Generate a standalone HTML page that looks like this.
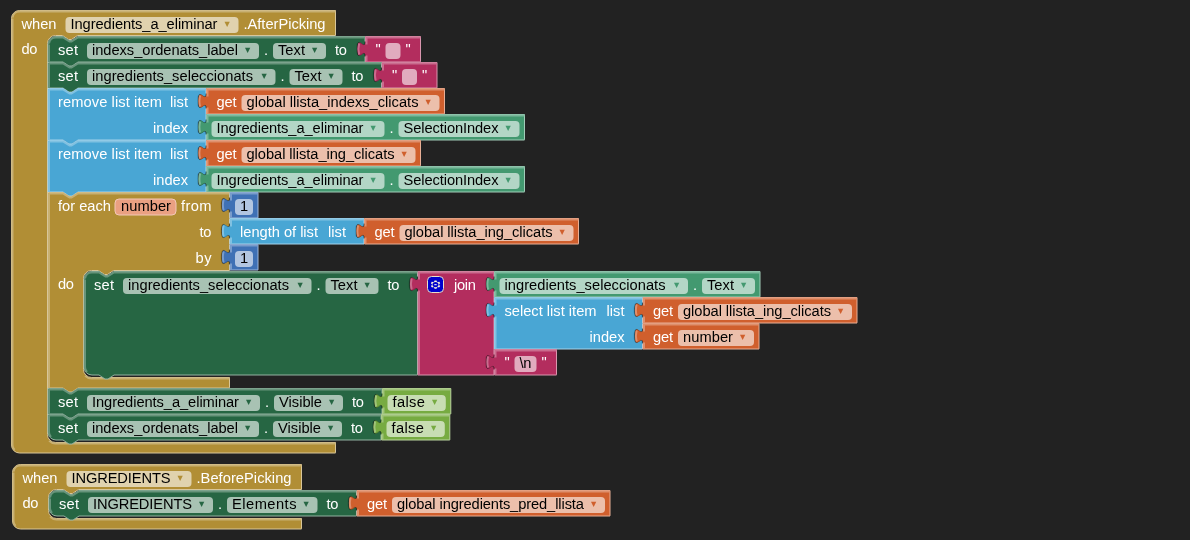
<!DOCTYPE html>
<html><head><meta charset="utf-8"><title>Blocks</title>
<style>
html,body{margin:0;padding:0;background:#222222;}
body{width:1190px;height:540px;overflow:hidden;}
svg{display:block;}
text{font-family:"Liberation Sans",Arial,sans-serif;font-size:14.667px;white-space:pre;}
text.ar{font-family:"DejaVu Sans",sans-serif;font-size:10.5px;}
</style></head><body>
<svg width="1190" height="540" viewBox="0 0 1190 540">
<rect width="1190" height="540" fill="#222222"/>
<g transform="translate(11.5,10.5)"><path d="M 0,8 A 8,8 0 0,1 8,0 H 324 v 25 H 66 l -6,4 -3,0 -6,-4 h -7 a 8,8 0 0,0 -8,8 v 391 a 8,8 0 0,0 8,8 H 324 v 10 v 0.5 H 8 a 8,8 0 0,1 -8,-8 z" fill="#B18E35"/><path d="M 0,8 A 8,8 0 0,1 8,0 H 324 v 25 H 66 l -6,4 -3,0 -6,-4 h -7 a 8,8 0 0,0 -8,8 v 391 a 8,8 0 0,0 8,8 H 324 v 10 v 0.5 H 8 a 8,8 0 0,1 -8,-8 V 8" fill="none" stroke="#d8c69a" stroke-width="1"/><path d="M 1,7 A 7,7 0 0,1 8,1 H 324 M 37.64,430.36 a 9,9 0 0,0 6.36,2.64 H 324 M 3.05,439.45 A 7,7 0 0,1 1,434.5 V 8" fill="none" stroke="#c8b072" stroke-width="2"/></g>
<text x="21.5" y="29" fill="#fff" textLength="35">when</text>
<rect x="65.5" y="17" width="173" height="16" rx="4" ry="4" fill="#fff" fill-opacity="0.6"/>
<text x="70.5" y="29" fill="#000" textLength="147">Ingredients_a_eliminar</text>
<text class="ar" x="224.6" y="26.6" fill="#B18E35">▾</text>
<text x="243.5" y="29" fill="#fff" textLength="82">.AfterPicking</text>
<text x="21.5" y="54" fill="#fff" textLength="16">do</text>
<g transform="translate(48,36.5)"><path d="M 0,8 A 8,8 0 0,1 8,0 H 15 l 6,4 3,0 6,-4 H 317 v 5 c 0,10 -8,-8 -8,7.5 s 8,-2.5 8,7.5 v 5 v 0.5 H 30 l -6,4 -3,0 -6,-4 H 0 z" fill="#266643"/><path d="M 0,8 A 8,8 0 0,1 8,0 H 15 l 6,4 3,0 6,-4 H 317 v 5 m 0,15 v 5 v 0.5 H 30 l -6,4 -3,0 -6,-4 H 0 V 8" fill="none" stroke="#92b2a1" stroke-width="1"/><path d="M 1,7 A 7,7 0 0,1 8,1 H 15 l 6.5,4 2,0 6.5,-4 H 317 M 1,25.5 V 8" fill="none" stroke="#67947b" stroke-width="2"/></g>
<text x="58" y="55" fill="#fff" textLength="20">set</text>
<rect x="87" y="43" width="172" height="16" rx="4" ry="4" fill="#fff" fill-opacity="0.6"/>
<text x="92" y="55" fill="#000" textLength="146">indexs_ordenats_label</text>
<text class="ar" x="245.1" y="52.6" fill="#266643">▾</text>
<text x="264" y="55" fill="#fff" textLength="4">.</text>
<rect x="273" y="43" width="53" height="16" rx="4" ry="4" fill="#fff" fill-opacity="0.6"/>
<text x="278" y="55" fill="#000" textLength="27">Text</text>
<text class="ar" x="312.1" y="52.6" fill="#266643">▾</text>
<text x="335" y="55" fill="#fff" textLength="12">to</text>
<g transform="translate(365.5,36.5)"><path d="M 0,0 H 55 v 25 v 0.5 H 0 V 20 c 0,-10 -8,8 -8,-7.5 s 8,2.5 8,-7.5 z" fill="#B32D5E"/><path d="M 0,0 H 55 v 25 v 0.5 H 0 V 20 M 0,5 V 0" fill="none" stroke="#d996ae" stroke-width="1"/><path d="M 1,1 H 55 M 1,25.5 V 19 m -7.36,-1 q -1.52,-5.5 0,-11 m 7.36,1 V 1 H 2" fill="none" stroke="#ca6c8e" stroke-width="2"/><path d="M -0.2,20 c 0,-10 -8,8 -8,-7.5 s 8,2.5 8,-7.5" transform="translate(-0.6,0)" fill="none" stroke="#000" stroke-opacity="0.18" stroke-width="1"/></g>
<text x="375.5" y="54" fill="#fff" textLength="5">"</text>
<rect x="385.5" y="43" width="15" height="16" rx="4" ry="4" fill="#fff" fill-opacity="0.6"/>
<text x="405.5" y="54" fill="#fff" textLength="5">"</text>
<g transform="translate(48,62.5)"><path d="M 0,0 H 15 l 6,4 3,0 6,-4 H 333.5 v 5 c 0,10 -8,-8 -8,7.5 s 8,-2.5 8,7.5 v 5 v 0.5 H 30 l -6,4 -3,0 -6,-4 H 0 z" fill="#266643"/><path d="M 0,0 H 15 l 6,4 3,0 6,-4 H 333.5 v 5 m 0,15 v 5 v 0.5 H 30 l -6,4 -3,0 -6,-4 H 0 V 0" fill="none" stroke="#92b2a1" stroke-width="1"/><path d="M 1,1 H 15 l 6.5,4 2,0 6.5,-4 H 333.5 M 1,25.5 V 1" fill="none" stroke="#67947b" stroke-width="2"/></g>
<text x="58" y="81" fill="#fff" textLength="20">set</text>
<rect x="87" y="69" width="188.5" height="16" rx="4" ry="4" fill="#fff" fill-opacity="0.6"/>
<text x="92" y="81" fill="#000" textLength="161">ingredients_seleccionats</text>
<text class="ar" x="261.6" y="78.6" fill="#266643">▾</text>
<text x="280.5" y="81" fill="#fff" textLength="4">.</text>
<rect x="289.5" y="69" width="53" height="16" rx="4" ry="4" fill="#fff" fill-opacity="0.6"/>
<text x="294.5" y="81" fill="#000" textLength="27">Text</text>
<text class="ar" x="328.6" y="78.6" fill="#266643">▾</text>
<text x="351.5" y="81" fill="#fff" textLength="12">to</text>
<g transform="translate(382,62.5)"><path d="M 0,0 H 55 v 25 v 0.5 H 0 V 20 c 0,-10 -8,8 -8,-7.5 s 8,2.5 8,-7.5 z" fill="#B32D5E"/><path d="M 0,0 H 55 v 25 v 0.5 H 0 V 20 M 0,5 V 0" fill="none" stroke="#d996ae" stroke-width="1"/><path d="M 1,1 H 55 M 1,25.5 V 19 m -7.36,-1 q -1.52,-5.5 0,-11 m 7.36,1 V 1 H 2" fill="none" stroke="#ca6c8e" stroke-width="2"/><path d="M -0.2,20 c 0,-10 -8,8 -8,-7.5 s 8,2.5 8,-7.5" transform="translate(-0.6,0)" fill="none" stroke="#000" stroke-opacity="0.18" stroke-width="1"/></g>
<text x="392" y="80" fill="#fff" textLength="5">"</text>
<rect x="402" y="69" width="15" height="16" rx="4" ry="4" fill="#fff" fill-opacity="0.6"/>
<text x="422" y="80" fill="#fff" textLength="5">"</text>
<g transform="translate(48,88.5)"><path d="M 0,0 H 15 l 6,4 3,0 6,-4 H 158 v 5 c 0,10 -8,-8 -8,7.5 s 8,-2.5 8,7.5 v 6 v 5 c 0,10 -8,-8 -8,7.5 s 8,-2.5 8,7.5 v 5 v 0.5 H 30 l -6,4 -3,0 -6,-4 H 0 z" fill="#49A6D4"/><path d="M 0,0 H 15 l 6,4 3,0 6,-4 H 158 v 5 m 0,15 v 6 v 5 m 0,15 v 5 v 0.5 H 30 l -6,4 -3,0 -6,-4 H 0 V 0" fill="none" stroke="#a4d2ea" stroke-width="1"/><path d="M 1,1 H 15 l 6.5,4 2,0 6.5,-4 H 158 M 1,51.5 V 1" fill="none" stroke="#80c1e1" stroke-width="2"/></g>
<text x="58" y="107" fill="#fff" textLength="104">remove list item</text>
<text x="170" y="107" fill="#fff" textLength="18">list</text>
<text x="153" y="133" fill="#fff" textLength="35">index</text>
<g transform="translate(206.5,88.5)"><path d="M 0,0 H 238 v 25 v 0.5 H 0 V 20 c 0,-10 -8,8 -8,-7.5 s 8,2.5 8,-7.5 z" fill="#D05F2D"/><path d="M 0,0 H 238 v 25 v 0.5 H 0 V 20 M 0,5 V 0" fill="none" stroke="#e8af96" stroke-width="1"/><path d="M 1,1 H 238 M 1,25.5 V 19 m -7.36,-1 q -1.52,-5.5 0,-11 m 7.36,1 V 1 H 2" fill="none" stroke="#de8f6c" stroke-width="2"/><path d="M -0.2,20 c 0,-10 -8,8 -8,-7.5 s 8,2.5 8,-7.5" transform="translate(-0.6,0)" fill="none" stroke="#000" stroke-opacity="0.18" stroke-width="1"/></g>
<text x="216.5" y="107" fill="#fff" textLength="20">get</text>
<rect x="241.5" y="95" width="198" height="16" rx="4" ry="4" fill="#fff" fill-opacity="0.6"/>
<text x="246.5" y="107" fill="#000" textLength="172">global llista_indexs_clicats</text>
<text class="ar" x="425.6" y="104.6" fill="#D05F2D">▾</text>
<g transform="translate(206.5,114.5)"><path d="M 0,0 H 318 v 25 v 0.5 H 0 V 20 c 0,-10 -8,8 -8,-7.5 s 8,2.5 8,-7.5 z" fill="#439970"/><path d="M 0,0 H 318 v 25 v 0.5 H 0 V 20 M 0,5 V 0" fill="none" stroke="#a1ccb8" stroke-width="1"/><path d="M 1,1 H 318 M 1,25.5 V 19 m -7.36,-1 q -1.52,-5.5 0,-11 m 7.36,1 V 1 H 2" fill="none" stroke="#7bb89b" stroke-width="2"/><path d="M -0.2,20 c 0,-10 -8,8 -8,-7.5 s 8,2.5 8,-7.5" transform="translate(-0.6,0)" fill="none" stroke="#000" stroke-opacity="0.18" stroke-width="1"/></g>
<rect x="211.5" y="121" width="173" height="16" rx="4" ry="4" fill="#fff" fill-opacity="0.6"/>
<text x="216.5" y="133" fill="#000" textLength="147">Ingredients_a_eliminar</text>
<text class="ar" x="370.6" y="130.6" fill="#439970">▾</text>
<text x="389.5" y="133" fill="#fff" textLength="4">.</text>
<rect x="398.5" y="121" width="121" height="16" rx="4" ry="4" fill="#fff" fill-opacity="0.6"/>
<text x="403.5" y="133" fill="#000" textLength="95">SelectionIndex</text>
<text class="ar" x="505.6" y="130.6" fill="#439970">▾</text>
<g transform="translate(48,140.5)"><path d="M 0,0 H 15 l 6,4 3,0 6,-4 H 158 v 5 c 0,10 -8,-8 -8,7.5 s 8,-2.5 8,7.5 v 6 v 5 c 0,10 -8,-8 -8,7.5 s 8,-2.5 8,7.5 v 5 v 0.5 H 30 l -6,4 -3,0 -6,-4 H 0 z" fill="#49A6D4"/><path d="M 0,0 H 15 l 6,4 3,0 6,-4 H 158 v 5 m 0,15 v 6 v 5 m 0,15 v 5 v 0.5 H 30 l -6,4 -3,0 -6,-4 H 0 V 0" fill="none" stroke="#a4d2ea" stroke-width="1"/><path d="M 1,1 H 15 l 6.5,4 2,0 6.5,-4 H 158 M 1,51.5 V 1" fill="none" stroke="#80c1e1" stroke-width="2"/></g>
<text x="58" y="159" fill="#fff" textLength="104">remove list item</text>
<text x="170" y="159" fill="#fff" textLength="18">list</text>
<text x="153" y="185" fill="#fff" textLength="35">index</text>
<g transform="translate(206.5,140.5)"><path d="M 0,0 H 214 v 25 v 0.5 H 0 V 20 c 0,-10 -8,8 -8,-7.5 s 8,2.5 8,-7.5 z" fill="#D05F2D"/><path d="M 0,0 H 214 v 25 v 0.5 H 0 V 20 M 0,5 V 0" fill="none" stroke="#e8af96" stroke-width="1"/><path d="M 1,1 H 214 M 1,25.5 V 19 m -7.36,-1 q -1.52,-5.5 0,-11 m 7.36,1 V 1 H 2" fill="none" stroke="#de8f6c" stroke-width="2"/><path d="M -0.2,20 c 0,-10 -8,8 -8,-7.5 s 8,2.5 8,-7.5" transform="translate(-0.6,0)" fill="none" stroke="#000" stroke-opacity="0.18" stroke-width="1"/></g>
<text x="216.5" y="159" fill="#fff" textLength="20">get</text>
<rect x="241.5" y="147" width="174" height="16" rx="4" ry="4" fill="#fff" fill-opacity="0.6"/>
<text x="246.5" y="159" fill="#000" textLength="148">global llista_ing_clicats</text>
<text class="ar" x="401.6" y="156.6" fill="#D05F2D">▾</text>
<g transform="translate(206.5,166.5)"><path d="M 0,0 H 318 v 25 v 0.5 H 0 V 20 c 0,-10 -8,8 -8,-7.5 s 8,2.5 8,-7.5 z" fill="#439970"/><path d="M 0,0 H 318 v 25 v 0.5 H 0 V 20 M 0,5 V 0" fill="none" stroke="#a1ccb8" stroke-width="1"/><path d="M 1,1 H 318 M 1,25.5 V 19 m -7.36,-1 q -1.52,-5.5 0,-11 m 7.36,1 V 1 H 2" fill="none" stroke="#7bb89b" stroke-width="2"/><path d="M -0.2,20 c 0,-10 -8,8 -8,-7.5 s 8,2.5 8,-7.5" transform="translate(-0.6,0)" fill="none" stroke="#000" stroke-opacity="0.18" stroke-width="1"/></g>
<rect x="211.5" y="173" width="173" height="16" rx="4" ry="4" fill="#fff" fill-opacity="0.6"/>
<text x="216.5" y="185" fill="#000" textLength="147">Ingredients_a_eliminar</text>
<text class="ar" x="370.6" y="182.6" fill="#439970">▾</text>
<text x="389.5" y="185" fill="#fff" textLength="4">.</text>
<rect x="398.5" y="173" width="121" height="16" rx="4" ry="4" fill="#fff" fill-opacity="0.6"/>
<text x="403.5" y="185" fill="#000" textLength="95">SelectionIndex</text>
<text class="ar" x="505.6" y="182.6" fill="#439970">▾</text>
<g transform="translate(48,192.5)"><path d="M 0,0 H 15 l 6,4 3,0 6,-4 H 181.5 v 5 c 0,10 -8,-8 -8,7.5 s 8,-2.5 8,7.5 v 6 v 5 c 0,10 -8,-8 -8,7.5 s 8,-2.5 8,7.5 v 6 v 5 c 0,10 -8,-8 -8,7.5 s 8,-2.5 8,7.5 v 6 H 65.5 l -6,4 -3,0 -6,-4 h -7 a 8,8 0 0,0 -8,8 v 91 a 8,8 0 0,0 8,8 H 181.5 v 10 v 0.5 H 30 l -6,4 -3,0 -6,-4 H 0 z" fill="#B18E35"/><path d="M 0,0 H 15 l 6,4 3,0 6,-4 H 181.5 v 5 m 0,15 v 6 v 5 m 0,15 v 6 v 5 m 0,15 v 6 H 65.5 l -6,4 -3,0 -6,-4 h -7 a 8,8 0 0,0 -8,8 v 91 a 8,8 0 0,0 8,8 H 181.5 v 10 v 0.5 H 30 l -6,4 -3,0 -6,-4 H 0 V 0" fill="none" stroke="#d8c69a" stroke-width="1"/><path d="M 1,1 H 15 l 6.5,4 2,0 6.5,-4 H 181.5 M 37.14,183.36 a 9,9 0 0,0 6.36,2.64 H 181.5 M 1,195.5 V 1" fill="none" stroke="#c8b072" stroke-width="2"/></g>
<text x="58" y="211" fill="#fff" textLength="53">for each</text>
<rect x="115" y="199" width="61" height="16" rx="4" ry="4" fill="#eaa082" fill-opacity="1" stroke="#f3c8b8" stroke-width="1"/>
<text x="121" y="211" fill="#000" textLength="50">number</text>
<text x="181" y="211" fill="#fff" textLength="30.5">from</text>
<text x="199.5" y="237" fill="#fff" textLength="12">to</text>
<text x="195.5" y="263" fill="#fff" textLength="16">by</text>
<text x="58" y="289" fill="#fff" textLength="16">do</text>
<g transform="translate(230,192.5)"><path d="M 0,0 H 28 v 25 v 0.5 H 0 V 20 c 0,-10 -8,8 -8,-7.5 s 8,2.5 8,-7.5 z" fill="#3F71B5"/><path d="M 0,0 H 28 v 25 v 0.5 H 0 V 20 M 0,5 V 0" fill="none" stroke="#9fb8da" stroke-width="1"/><path d="M 1,1 H 28 M 1,25.5 V 19 m -7.36,-1 q -1.52,-5.5 0,-11 m 7.36,1 V 1 H 2" fill="none" stroke="#799ccb" stroke-width="2"/><path d="M -0.2,20 c 0,-10 -8,8 -8,-7.5 s 8,2.5 8,-7.5" transform="translate(-0.6,0)" fill="none" stroke="#000" stroke-opacity="0.18" stroke-width="1"/></g>
<rect x="235" y="199" width="18" height="16" rx="4" ry="4" fill="#fff" fill-opacity="0.6"/>
<text x="240" y="211" fill="#000" textLength="8">1</text>
<g transform="translate(230,218.5)"><path d="M 0,0 H 134 v 5 c 0,10 -8,-8 -8,7.5 s 8,-2.5 8,7.5 v 5 v 0.5 H 0 V 20 c 0,-10 -8,8 -8,-7.5 s 8,2.5 8,-7.5 z" fill="#49A6D4"/><path d="M 0,0 H 134 v 5 m 0,15 v 5 v 0.5 H 0 V 20 M 0,5 V 0" fill="none" stroke="#a4d2ea" stroke-width="1"/><path d="M 1,1 H 134 M 1,25.5 V 19 m -7.36,-1 q -1.52,-5.5 0,-11 m 7.36,1 V 1 H 2" fill="none" stroke="#80c1e1" stroke-width="2"/><path d="M -0.2,20 c 0,-10 -8,8 -8,-7.5 s 8,2.5 8,-7.5" transform="translate(-0.6,0)" fill="none" stroke="#000" stroke-opacity="0.18" stroke-width="1"/></g>
<text x="240" y="237" fill="#fff" textLength="78">length of list</text>
<text x="328" y="237" fill="#fff" textLength="18">list</text>
<g transform="translate(364.5,218.5)"><path d="M 0,0 H 214 v 25 v 0.5 H 0 V 20 c 0,-10 -8,8 -8,-7.5 s 8,2.5 8,-7.5 z" fill="#D05F2D"/><path d="M 0,0 H 214 v 25 v 0.5 H 0 V 20 M 0,5 V 0" fill="none" stroke="#e8af96" stroke-width="1"/><path d="M 1,1 H 214 M 1,25.5 V 19 m -7.36,-1 q -1.52,-5.5 0,-11 m 7.36,1 V 1 H 2" fill="none" stroke="#de8f6c" stroke-width="2"/><path d="M -0.2,20 c 0,-10 -8,8 -8,-7.5 s 8,2.5 8,-7.5" transform="translate(-0.6,0)" fill="none" stroke="#000" stroke-opacity="0.18" stroke-width="1"/></g>
<text x="374.5" y="237" fill="#fff" textLength="20">get</text>
<rect x="399.5" y="225" width="174" height="16" rx="4" ry="4" fill="#fff" fill-opacity="0.6"/>
<text x="404.5" y="237" fill="#000" textLength="148">global llista_ing_clicats</text>
<text class="ar" x="559.6" y="234.6" fill="#D05F2D">▾</text>
<g transform="translate(230,244.5)"><path d="M 0,0 H 28 v 25 v 0.5 H 0 V 20 c 0,-10 -8,8 -8,-7.5 s 8,2.5 8,-7.5 z" fill="#3F71B5"/><path d="M 0,0 H 28 v 25 v 0.5 H 0 V 20 M 0,5 V 0" fill="none" stroke="#9fb8da" stroke-width="1"/><path d="M 1,1 H 28 M 1,25.5 V 19 m -7.36,-1 q -1.52,-5.5 0,-11 m 7.36,1 V 1 H 2" fill="none" stroke="#799ccb" stroke-width="2"/><path d="M -0.2,20 c 0,-10 -8,8 -8,-7.5 s 8,2.5 8,-7.5" transform="translate(-0.6,0)" fill="none" stroke="#000" stroke-opacity="0.18" stroke-width="1"/></g>
<rect x="235" y="251" width="18" height="16" rx="4" ry="4" fill="#fff" fill-opacity="0.6"/>
<text x="240" y="263" fill="#000" textLength="8">1</text>
<g transform="translate(84,271.5)"><path d="M 0,8 A 8,8 0 0,1 8,0 H 15 l 6,4 3,0 6,-4 H 333.5 v 5 c 0,10 -8,-8 -8,7.5 s 8,-2.5 8,7.5 v 83 v 0.5 H 30 l -6,4 -3,0 -6,-4 H 8 a 8,8 0 0,1 -8,-8 z" fill="#266643"/><path d="M 0,8 A 8,8 0 0,1 8,0 H 15 l 6,4 3,0 6,-4 H 333.5 v 5 m 0,15 v 83 v 0.5 H 30 l -6,4 -3,0 -6,-4 H 8 a 8,8 0 0,1 -8,-8 V 8" fill="none" stroke="#92b2a1" stroke-width="1"/><path d="M 1,7 A 7,7 0 0,1 8,1 H 15 l 6.5,4 2,0 6.5,-4 H 333.5 M 3.05,100.45 A 7,7 0 0,1 1,95.5 V 8" fill="none" stroke="#67947b" stroke-width="2"/></g>
<text x="94" y="290" fill="#fff" textLength="20">set</text>
<rect x="123" y="278" width="188.5" height="16" rx="4" ry="4" fill="#fff" fill-opacity="0.6"/>
<text x="128" y="290" fill="#000" textLength="161">ingredients_seleccionats</text>
<text class="ar" x="297.6" y="287.6" fill="#266643">▾</text>
<text x="316.5" y="290" fill="#fff" textLength="4">.</text>
<rect x="325.5" y="278" width="53" height="16" rx="4" ry="4" fill="#fff" fill-opacity="0.6"/>
<text x="330.5" y="290" fill="#000" textLength="27">Text</text>
<text class="ar" x="364.6" y="287.6" fill="#266643">▾</text>
<text x="387.5" y="290" fill="#fff" textLength="12">to</text>
<g transform="translate(418,271.5)"><path d="M 0,0 H 76 v 5 c 0,10 -8,-8 -8,7.5 s 8,-2.5 8,7.5 v 6 v 5 c 0,10 -8,-8 -8,7.5 s 8,-2.5 8,7.5 v 32 v 5 c 0,10 -8,-8 -8,7.5 s 8,-2.5 8,7.5 v 5 v 0.5 H 0 V 20 c 0,-10 -8,8 -8,-7.5 s 8,2.5 8,-7.5 z" fill="#B32D5E"/><path d="M 0,0 H 76 v 5 m 0,15 v 6 v 5 m 0,15 v 32 v 5 m 0,15 v 5 v 0.5 H 0 V 20 M 0,5 V 0" fill="none" stroke="#d996ae" stroke-width="1"/><path d="M 1,1 H 76 M 1,103.5 V 19 m -7.36,-1 q -1.52,-5.5 0,-11 m 7.36,1 V 1 H 2" fill="none" stroke="#ca6c8e" stroke-width="2"/><path d="M -0.2,20 c 0,-10 -8,8 -8,-7.5 s 8,2.5 8,-7.5" transform="translate(-0.6,0)" fill="none" stroke="#000" stroke-opacity="0.18" stroke-width="1"/><g transform="translate(9.5,5)"><rect width="16" height="16" rx="4" ry="4" fill="#0000cc" stroke="#e8e0c8" stroke-width="1"/><g transform="translate(8,8.1) scale(0.95,0.82) translate(-8,-8)"><path fill="#fff6d8" d="m4.203,7.296 0,1.368 -0.92,0.677 -0.11,0.41 0.9,1.559 0.41,0.11 1.043,-0.457 1.187,0.683 0.127,1.134 0.3,0.3 1.8,0 0.3,-0.299 0.127,-1.138 1.185,-0.682 1.046,0.458 0.409,-0.11 0.9,-1.559 -0.11,-0.41 -0.92,-0.677 0,-1.366 0.92,-0.677 0.11,-0.41 -0.9,-1.559 -0.409,-0.109 -1.046,0.458 -1.185,-0.682 -0.127,-1.138 -0.3,-0.299 -1.8,0 -0.3,0.3 -0.126,1.135 -1.187,0.682 -1.043,-0.457 -0.41,0.11 -0.899,1.559 0.108,0.409z"/><circle cx="8" cy="8" r="3.2" fill="#0000cc"/></g><rect x="6.8" y="7.7" width="2.4" height="1" fill="#fff"/></g></g>
<text x="454" y="290" fill="#fff" textLength="22">join</text>
<g transform="translate(494.5,271.5)"><path d="M 0,0 H 265.5 v 25 v 0.5 H 0 V 20 c 0,-10 -8,8 -8,-7.5 s 8,2.5 8,-7.5 z" fill="#439970"/><path d="M 0,0 H 265.5 v 25 v 0.5 H 0 V 20 M 0,5 V 0" fill="none" stroke="#a1ccb8" stroke-width="1"/><path d="M 1,1 H 265.5 M 1,25.5 V 19 m -7.36,-1 q -1.52,-5.5 0,-11 m 7.36,1 V 1 H 2" fill="none" stroke="#7bb89b" stroke-width="2"/><path d="M -0.2,20 c 0,-10 -8,8 -8,-7.5 s 8,2.5 8,-7.5" transform="translate(-0.6,0)" fill="none" stroke="#000" stroke-opacity="0.18" stroke-width="1"/></g>
<rect x="499.5" y="278" width="188.5" height="16" rx="4" ry="4" fill="#fff" fill-opacity="0.6"/>
<text x="504.5" y="290" fill="#000" textLength="161">ingredients_seleccionats</text>
<text class="ar" x="674.1" y="287.6" fill="#439970">▾</text>
<text x="693" y="290" fill="#fff" textLength="4">.</text>
<rect x="702" y="278" width="53" height="16" rx="4" ry="4" fill="#fff" fill-opacity="0.6"/>
<text x="707" y="290" fill="#000" textLength="27">Text</text>
<text class="ar" x="741.1" y="287.6" fill="#439970">▾</text>
<g transform="translate(494.5,297.5)"><path d="M 0,0 H 148 v 5 c 0,10 -8,-8 -8,7.5 s 8,-2.5 8,7.5 v 6 v 5 c 0,10 -8,-8 -8,7.5 s 8,-2.5 8,7.5 v 5 v 0.5 H 0 V 20 c 0,-10 -8,8 -8,-7.5 s 8,2.5 8,-7.5 z" fill="#49A6D4"/><path d="M 0,0 H 148 v 5 m 0,15 v 6 v 5 m 0,15 v 5 v 0.5 H 0 V 20 M 0,5 V 0" fill="none" stroke="#a4d2ea" stroke-width="1"/><path d="M 1,1 H 148 M 1,51.5 V 19 m -7.36,-1 q -1.52,-5.5 0,-11 m 7.36,1 V 1 H 2" fill="none" stroke="#80c1e1" stroke-width="2"/><path d="M -0.2,20 c 0,-10 -8,8 -8,-7.5 s 8,2.5 8,-7.5" transform="translate(-0.6,0)" fill="none" stroke="#000" stroke-opacity="0.18" stroke-width="1"/></g>
<text x="504.5" y="316" fill="#fff" textLength="92">select list item</text>
<text x="606.5" y="316" fill="#fff" textLength="18">list</text>
<text x="589.5" y="342" fill="#fff" textLength="35">index</text>
<g transform="translate(643,297.5)"><path d="M 0,0 H 214 v 25 v 0.5 H 0 V 20 c 0,-10 -8,8 -8,-7.5 s 8,2.5 8,-7.5 z" fill="#D05F2D"/><path d="M 0,0 H 214 v 25 v 0.5 H 0 V 20 M 0,5 V 0" fill="none" stroke="#e8af96" stroke-width="1"/><path d="M 1,1 H 214 M 1,25.5 V 19 m -7.36,-1 q -1.52,-5.5 0,-11 m 7.36,1 V 1 H 2" fill="none" stroke="#de8f6c" stroke-width="2"/><path d="M -0.2,20 c 0,-10 -8,8 -8,-7.5 s 8,2.5 8,-7.5" transform="translate(-0.6,0)" fill="none" stroke="#000" stroke-opacity="0.18" stroke-width="1"/></g>
<text x="653" y="316" fill="#fff" textLength="20">get</text>
<rect x="678" y="304" width="174" height="16" rx="4" ry="4" fill="#fff" fill-opacity="0.6"/>
<text x="683" y="316" fill="#000" textLength="148">global llista_ing_clicats</text>
<text class="ar" x="838.1" y="313.6" fill="#D05F2D">▾</text>
<g transform="translate(643,323.5)"><path d="M 0,0 H 116 v 25 v 0.5 H 0 V 20 c 0,-10 -8,8 -8,-7.5 s 8,2.5 8,-7.5 z" fill="#D05F2D"/><path d="M 0,0 H 116 v 25 v 0.5 H 0 V 20 M 0,5 V 0" fill="none" stroke="#e8af96" stroke-width="1"/><path d="M 1,1 H 116 M 1,25.5 V 19 m -7.36,-1 q -1.52,-5.5 0,-11 m 7.36,1 V 1 H 2" fill="none" stroke="#de8f6c" stroke-width="2"/><path d="M -0.2,20 c 0,-10 -8,8 -8,-7.5 s 8,2.5 8,-7.5" transform="translate(-0.6,0)" fill="none" stroke="#000" stroke-opacity="0.18" stroke-width="1"/></g>
<text x="653" y="342" fill="#fff" textLength="20">get</text>
<rect x="678" y="330" width="76" height="16" rx="4" ry="4" fill="#fff" fill-opacity="0.6"/>
<text x="683" y="342" fill="#000" textLength="50">number</text>
<text class="ar" x="740.1" y="339.6" fill="#D05F2D">▾</text>
<g transform="translate(494.5,349.5)"><path d="M 0,0 H 62 v 25 v 0.5 H 0 V 20 c 0,-10 -8,8 -8,-7.5 s 8,2.5 8,-7.5 z" fill="#B32D5E"/><path d="M 0,0 H 62 v 25 v 0.5 H 0 V 20 M 0,5 V 0" fill="none" stroke="#d996ae" stroke-width="1"/><path d="M 1,1 H 62 M 1,25.5 V 19 m -7.36,-1 q -1.52,-5.5 0,-11 m 7.36,1 V 1 H 2" fill="none" stroke="#ca6c8e" stroke-width="2"/><path d="M -0.2,20 c 0,-10 -8,8 -8,-7.5 s 8,2.5 8,-7.5" transform="translate(-0.6,0)" fill="none" stroke="#000" stroke-opacity="0.18" stroke-width="1"/></g>
<text x="504.5" y="367" fill="#fff" textLength="5">"</text>
<rect x="514.5" y="356" width="22" height="16" rx="4" ry="4" fill="#fff" fill-opacity="0.6"/>
<text x="519.5" y="368" fill="#000" textLength="12">\n</text>
<text x="541.5" y="367" fill="#fff" textLength="5">"</text>
<g transform="translate(48,388.5)"><path d="M 0,0 H 15 l 6,4 3,0 6,-4 H 334 v 5 c 0,10 -8,-8 -8,7.5 s 8,-2.5 8,7.5 v 5 v 0.5 H 30 l -6,4 -3,0 -6,-4 H 0 z" fill="#266643"/><path d="M 0,0 H 15 l 6,4 3,0 6,-4 H 334 v 5 m 0,15 v 5 v 0.5 H 30 l -6,4 -3,0 -6,-4 H 0 V 0" fill="none" stroke="#92b2a1" stroke-width="1"/><path d="M 1,1 H 15 l 6.5,4 2,0 6.5,-4 H 334 M 1,25.5 V 1" fill="none" stroke="#67947b" stroke-width="2"/></g>
<text x="58" y="407" fill="#fff" textLength="20">set</text>
<rect x="87" y="395" width="173" height="16" rx="4" ry="4" fill="#fff" fill-opacity="0.6"/>
<text x="92" y="407" fill="#000" textLength="147">Ingredients_a_eliminar</text>
<text class="ar" x="246.1" y="404.6" fill="#266643">▾</text>
<text x="265" y="407" fill="#fff" textLength="4">.</text>
<rect x="274" y="395" width="69" height="16" rx="4" ry="4" fill="#fff" fill-opacity="0.6"/>
<text x="279" y="407" fill="#000" textLength="43">Visible</text>
<text class="ar" x="329.1" y="404.6" fill="#266643">▾</text>
<text x="352" y="407" fill="#fff" textLength="12">to</text>
<g transform="translate(382.5,388.5)"><path d="M 0,0 H 68.3 v 25 v 0.5 H 0 V 20 c 0,-10 -8,8 -8,-7.5 s 8,2.5 8,-7.5 z" fill="#77AB41"/><path d="M 0,0 H 68.3 v 25 v 0.5 H 0 V 20 M 0,5 V 0" fill="none" stroke="#bbd5a0" stroke-width="1"/><path d="M 1,1 H 68.3 M 1,25.5 V 19 m -7.36,-1 q -1.52,-5.5 0,-11 m 7.36,1 V 1 H 2" fill="none" stroke="#a0c47a" stroke-width="2"/><path d="M -0.2,20 c 0,-10 -8,8 -8,-7.5 s 8,2.5 8,-7.5" transform="translate(-0.6,0)" fill="none" stroke="#000" stroke-opacity="0.18" stroke-width="1"/></g>
<rect x="387.5" y="395" width="58.3" height="16" rx="4" ry="4" fill="#fff" fill-opacity="0.6"/>
<text x="392.5" y="407" fill="#000" textLength="32.3">false</text>
<text class="ar" x="431.9" y="404.6" fill="#77AB41">▾</text>
<g transform="translate(48,414.5)"><path d="M 0,0 H 15 l 6,4 3,0 6,-4 H 333 v 5 c 0,10 -8,-8 -8,7.5 s 8,-2.5 8,7.5 v 5 v 0.5 H 30 l -6,4 -3,0 -6,-4 H 8 a 8,8 0 0,1 -8,-8 z" fill="#266643"/><path d="M 0,0 H 15 l 6,4 3,0 6,-4 H 333 v 5 m 0,15 v 5 v 0.5 H 30 l -6,4 -3,0 -6,-4 H 8 a 8,8 0 0,1 -8,-8 V 0" fill="none" stroke="#92b2a1" stroke-width="1"/><path d="M 1,1 H 15 l 6.5,4 2,0 6.5,-4 H 333 M 3.05,22.45 A 7,7 0 0,1 1,17.5 V 1" fill="none" stroke="#67947b" stroke-width="2"/></g>
<text x="58" y="433" fill="#fff" textLength="20">set</text>
<rect x="87" y="421" width="172" height="16" rx="4" ry="4" fill="#fff" fill-opacity="0.6"/>
<text x="92" y="433" fill="#000" textLength="146">indexs_ordenats_label</text>
<text class="ar" x="245.1" y="430.6" fill="#266643">▾</text>
<text x="264" y="433" fill="#fff" textLength="4">.</text>
<rect x="273" y="421" width="69" height="16" rx="4" ry="4" fill="#fff" fill-opacity="0.6"/>
<text x="278" y="433" fill="#000" textLength="43">Visible</text>
<text class="ar" x="328.1" y="430.6" fill="#266643">▾</text>
<text x="351" y="433" fill="#fff" textLength="12">to</text>
<g transform="translate(381.5,414.5)"><path d="M 0,0 H 68.3 v 25 v 0.5 H 0 V 20 c 0,-10 -8,8 -8,-7.5 s 8,2.5 8,-7.5 z" fill="#77AB41"/><path d="M 0,0 H 68.3 v 25 v 0.5 H 0 V 20 M 0,5 V 0" fill="none" stroke="#bbd5a0" stroke-width="1"/><path d="M 1,1 H 68.3 M 1,25.5 V 19 m -7.36,-1 q -1.52,-5.5 0,-11 m 7.36,1 V 1 H 2" fill="none" stroke="#a0c47a" stroke-width="2"/><path d="M -0.2,20 c 0,-10 -8,8 -8,-7.5 s 8,2.5 8,-7.5" transform="translate(-0.6,0)" fill="none" stroke="#000" stroke-opacity="0.18" stroke-width="1"/></g>
<rect x="386.5" y="421" width="58.3" height="16" rx="4" ry="4" fill="#fff" fill-opacity="0.6"/>
<text x="391.5" y="433" fill="#000" textLength="32.3">false</text>
<text class="ar" x="430.9" y="430.6" fill="#77AB41">▾</text>
<g transform="translate(12.5,464.5)"><path d="M 0,8 A 8,8 0 0,1 8,0 H 289 v 25 H 66 l -6,4 -3,0 -6,-4 h -7 a 8,8 0 0,0 -8,8 v 13 a 8,8 0 0,0 8,8 H 289 v 10 v 0.5 H 8 a 8,8 0 0,1 -8,-8 z" fill="#B18E35"/><path d="M 0,8 A 8,8 0 0,1 8,0 H 289 v 25 H 66 l -6,4 -3,0 -6,-4 h -7 a 8,8 0 0,0 -8,8 v 13 a 8,8 0 0,0 8,8 H 289 v 10 v 0.5 H 8 a 8,8 0 0,1 -8,-8 V 8" fill="none" stroke="#d8c69a" stroke-width="1"/><path d="M 1,7 A 7,7 0 0,1 8,1 H 289 M 37.64,52.36 a 9,9 0 0,0 6.36,2.64 H 289 M 3.05,61.45 A 7,7 0 0,1 1,56.5 V 8" fill="none" stroke="#c8b072" stroke-width="2"/></g>
<text x="22.5" y="483" fill="#fff" textLength="35">when</text>
<rect x="66.5" y="471" width="125" height="16" rx="4" ry="4" fill="#fff" fill-opacity="0.6"/>
<text x="71.5" y="483" fill="#000" textLength="99">INGREDIENTS</text>
<text class="ar" x="177.6" y="480.6" fill="#B18E35">▾</text>
<text x="196.5" y="483" fill="#fff" textLength="95">.BeforePicking</text>
<text x="22.5" y="508" fill="#fff" textLength="16">do</text>
<g transform="translate(49,490.5)"><path d="M 0,8 A 8,8 0 0,1 8,0 H 15 l 6,4 3,0 6,-4 H 307.5 v 5 c 0,10 -8,-8 -8,7.5 s 8,-2.5 8,7.5 v 5 v 0.5 H 30 l -6,4 -3,0 -6,-4 H 8 a 8,8 0 0,1 -8,-8 z" fill="#266643"/><path d="M 0,8 A 8,8 0 0,1 8,0 H 15 l 6,4 3,0 6,-4 H 307.5 v 5 m 0,15 v 5 v 0.5 H 30 l -6,4 -3,0 -6,-4 H 8 a 8,8 0 0,1 -8,-8 V 8" fill="none" stroke="#92b2a1" stroke-width="1"/><path d="M 1,7 A 7,7 0 0,1 8,1 H 15 l 6.5,4 2,0 6.5,-4 H 307.5 M 3.05,22.45 A 7,7 0 0,1 1,17.5 V 8" fill="none" stroke="#67947b" stroke-width="2"/></g>
<text x="59" y="509" fill="#fff" textLength="20">set</text>
<rect x="88" y="497" width="125" height="16" rx="4" ry="4" fill="#fff" fill-opacity="0.6"/>
<text x="93" y="509" fill="#000" textLength="99">INGREDIENTS</text>
<text class="ar" x="199.1" y="506.6" fill="#266643">▾</text>
<text x="218" y="509" fill="#fff" textLength="4">.</text>
<rect x="227" y="497" width="90.5" height="16" rx="4" ry="4" fill="#fff" fill-opacity="0.6"/>
<text x="232" y="509" fill="#000" textLength="64.5">Elements</text>
<text class="ar" x="303.6" y="506.6" fill="#266643">▾</text>
<text x="326.5" y="509" fill="#fff" textLength="12">to</text>
<g transform="translate(357,490.5)"><path d="M 0,0 H 253 v 25 v 0.5 H 0 V 20 c 0,-10 -8,8 -8,-7.5 s 8,2.5 8,-7.5 z" fill="#D05F2D"/><path d="M 0,0 H 253 v 25 v 0.5 H 0 V 20 M 0,5 V 0" fill="none" stroke="#e8af96" stroke-width="1"/><path d="M 1,1 H 253 M 1,25.5 V 19 m -7.36,-1 q -1.52,-5.5 0,-11 m 7.36,1 V 1 H 2" fill="none" stroke="#de8f6c" stroke-width="2"/><path d="M -0.2,20 c 0,-10 -8,8 -8,-7.5 s 8,2.5 8,-7.5" transform="translate(-0.6,0)" fill="none" stroke="#000" stroke-opacity="0.18" stroke-width="1"/></g>
<text x="367" y="509" fill="#fff" textLength="20">get</text>
<rect x="392" y="497" width="213" height="16" rx="4" ry="4" fill="#fff" fill-opacity="0.6"/>
<text x="397" y="509" fill="#000" textLength="187">global ingredients_pred_llista</text>
<text class="ar" x="591.1" y="506.6" fill="#D05F2D">▾</text>
</svg>
</body></html>
